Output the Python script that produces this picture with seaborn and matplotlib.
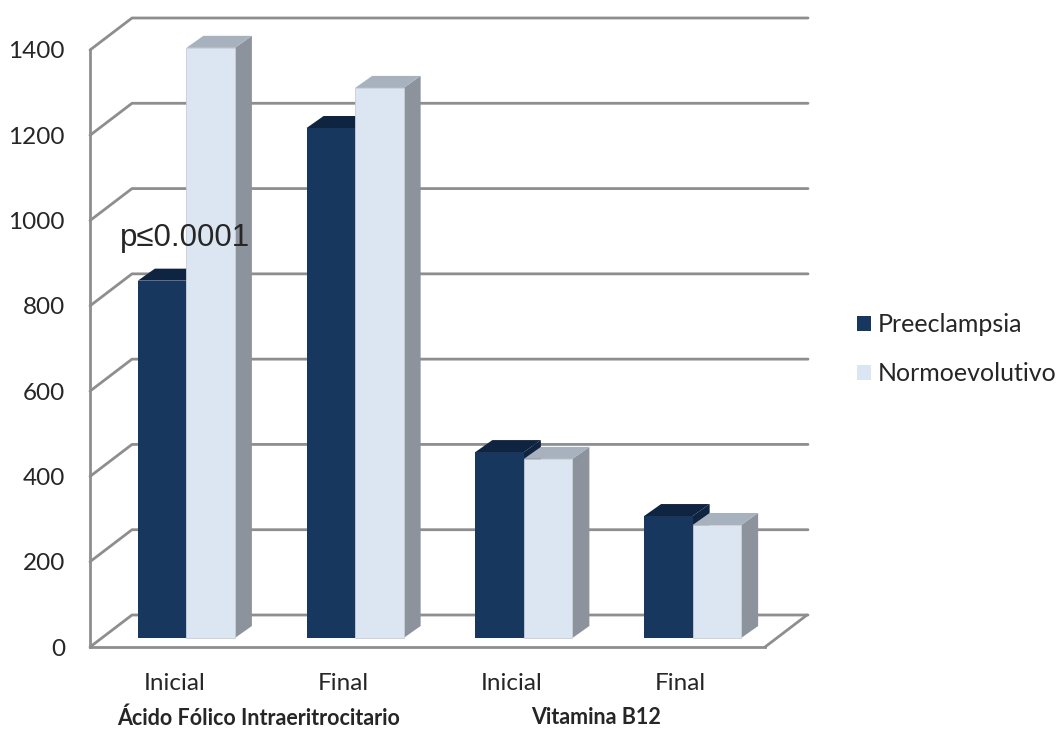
import seaborn as sns
import pandas as pd
import matplotlib.pyplot as plt
from matplotlib.patches import Polygon, Patch
from matplotlib.lines import Line2D
from matplotlib.transforms import ScaledTranslation, blended_transform_factory

# datos
momentos = ["Inicial", "Final", "Inicial", "Final"]
claves = ["AF Inicial", "AF Final", "B12 Inicial", "B12 Final"]
grupos = ["Ácido Fólico Intraeritrocitario", "Vitamina B12"]
series = ["Preeclampsia", "Normoevolutivo"]
preeclampsia = [838, 1196, 436, 286]
normoevolutivo = [1384, 1290, 420, 265]
yticks = [0, 200, 400, 600, 800, 1000, 1200, 1400]

df = pd.DataFrame({
    "pos": claves * 2,
    "grupo": [series[0]] * 4 + [series[1]] * 4,
    "valor": preeclampsia + normoevolutivo,
})

sns.set_style("white")
plt.rcParams["font.family"] = ["Lato", "DejaVu Sans"]

W, H = 1059, 733
fig = plt.figure(figsize=(W / 100, H / 100), dpi=100)
ax = fig.add_axes([90 / W, (H - 647) / H, 675 / W, 597 / H])

pal = {"Preeclampsia": "#17375E", "Normoevolutivo": "#DCE6F2"}
tops = {"Preeclampsia": "#0F2440", "Normoevolutivo": "#A7B2BE"}
sides = {"Preeclampsia": "#0F2440", "Normoevolutivo": "#8C939C"}
gray = "#8E8E8E"

sns.barplot(data=df, x="pos", y="valor", hue="grupo", order=claves,
            hue_order=series, palette=pal, width=0.575, gap=0,
            saturation=1, legend=False, errorbar=None, ax=ax)
ax.set_xlim(-0.5, 3.5)
ax.set_ylim(0, 1400)

inch = fig.dpi_scale_trans


def px(x, y):
    return ax.transData.transform((x, y))


# pared del fondo y lateral (3D)
for v in yticks:
    fx, fy = px(-0.5, v)
    bx, by = fx + 42, fy + 32
    ex = px(3.5, v)[0] + 43
    ax.add_line(Line2D([fx / 100, bx / 100, ex / 100], [fy / 100, by / 100, by / 100],
                       transform=inch, color=gray, lw=2, clip_on=False, zorder=1))
rx, ry = px(3.5, 0)
ax.add_line(Line2D([rx / 100, (rx + 42) / 100], [ry / 100, (ry + 32) / 100],
                   transform=inch, color=gray, lw=2, clip_on=False, zorder=1))

# barras con cara superior y lateral
ox, oy = 12, 9
dx, dy = 17, 12
for j, cont in enumerate(ax.containers):
    s = series[j]
    for i, bar in enumerate(cont):
        z = 3 + 2 * i + j
        bar.set_transform(ax.transData + ScaledTranslation(ox / 100, oy / 100, inch))
        bar.set_zorder(z + 0.2)
        bar.set_clip_on(False)
        bar.set_edgecolor("#C8CED6" if j == 1 else "none")
        bar.set_linewidth(0.6)
        x0 = bar.get_x()
        x1 = x0 + bar.get_width()
        h = bar.get_height()
        a0, b0 = px(x0, 0)
        a1, b1 = px(x1, h)
        a0, b0, a1, b1 = a0 + ox, b0 + oy, a1 + ox, b1 + oy
        top = [(a0, b1), (a1, b1), (a1 + dx, b1 + dy), (a0 + dx, b1 + dy)]
        side = [(a1, b0), (a1, b1), (a1 + dx, b1 + dy), (a1 + dx, b0 + dy)]
        for pts, col, zz in [(side, sides[s], z), (top, tops[s], z + 0.1)]:
            ax.add_patch(Polygon([(p / 100, q / 100) for p, q in pts], closed=True,
                                 transform=inch, facecolor=col, edgecolor="none",
                                 clip_on=False, zorder=zz))

# ejes
for sp in ["top", "right"]:
    ax.spines[sp].set_visible(False)
for sp in ["left", "bottom"]:
    ax.spines[sp].set_color(gray)
    ax.spines[sp].set_linewidth(2)
ax.set_xlabel("")
ax.set_ylabel("")
ax.set_xticks(range(4))
ax.set_xticklabels(momentos)
ax.set_xticks([-0.5, 0.5, 1.5, 2.5, 3.5], minor=True)
ax.tick_params(axis="x", which="major", length=0, pad=19, labelsize=17.5)
ax.tick_params(axis="x", which="minor", length=7, width=1.5, color=gray)
ax.set_yticks(yticks)
ax.tick_params(axis="y", length=6, width=1.5, color=gray, pad=12, labelsize=17.5)

tr = blended_transform_factory(ax.transData, fig.transFigure)
for k, g in enumerate(grupos):
    ax.text(0.5 + 2 * k, 1 - 718 / H, g, transform=tr, ha="center", va="center",
            fontsize=15.5, fontweight="bold")

ax.text(-0.32, 958, "p≤0.0001", fontsize=22.5, va="center", ha="left",
        family=["Liberation Sans", "DejaVu Sans"], zorder=20)

handles = [Patch(facecolor=pal[s], edgecolor="none") for s in series]
ax.legend(handles, series, loc="center left", bbox_to_anchor=(857 / W, 1 - 349 / H),
          bbox_transform=fig.transFigure, frameon=False, fontsize=18,
          handlelength=0.55, handleheight=0.55, handletextpad=0.3,
          labelspacing=1.05, borderaxespad=0, borderpad=0)

fig.savefig("out.png", dpi=100)
